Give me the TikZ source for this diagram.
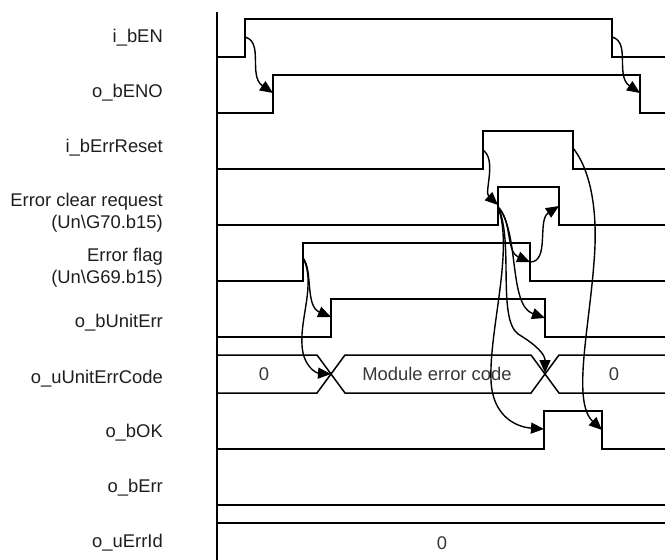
\documentclass[tikz,border=0pt]{standalone}
\usepackage{fontspec}
\setmainfont{Liberation Sans}
\usetikzlibrary{arrows.meta}
\definecolor{txt}{RGB}{30,30,30}
\definecolor{bustxt}{RGB}{55,55,55}
\tikzset{
  sig/.style={line width=1.5pt, line join=miter},
  axisline/.style={line width=1.8pt},
  cause/.style={line width=1.4pt, -{Triangle[length=13pt,width=11pt]}},
  lbl/.style={anchor=east, inner sep=0pt, text=txt, font=\fontsize{18.4}{22}\selectfont, align=right},
  bustext/.style={inner sep=0pt, text=bustxt, font=\fontsize{18.4}{22}\selectfont}
}
\begin{document}
\begin{tikzpicture}[x=1pt,y=-1pt]
\useasboundingbox (0,0) rectangle (665,560);
% labels
\node[lbl] (l1) at (163,38) {i\_bEN};
\node[lbl] (l2) at (163,93) {o\_bENO};
\node[lbl] (l3) at (163,148) {i\_bErrReset};
\node[lbl] (l4) at (163,213) {Error clear request\\(Un\textbackslash G70.b15)};
\node[lbl] (l5) at (163,268) {Error flag\\(Un\textbackslash G69.b15)};
\node[lbl] (l6) at (163,323) {o\_bUnitErr};
\node[lbl] (l7) at (163,379) {o\_uUnitErrCode};
\node[lbl] (l8) at (163,433) {o\_bOK};
\node[lbl] (l9) at (163,488) {o\_bErr};
\node[lbl] (l10) at (163,543) {o\_uErrId};
% time axis
\draw[axisline] (217,12) -- (217,560);
% signals
\draw[sig] (217,57) -- (245,57) -- (245,19) -- (612,19) -- (612,57) -- (665,57);
\draw[sig] (217,113) -- (273,113) -- (273,75) -- (640,75) -- (640,113) -- (665,113);
\draw[sig] (217,169) -- (483,169) -- (483,131) -- (573,131) -- (573,169) -- (665,169);
\draw[sig] (217,225) -- (498,225) -- (498,187) -- (559,187) -- (559,225) -- (665,225);
\draw[sig] (217,281) -- (303,281) -- (303,243) -- (530,243) -- (530,281) -- (665,281);
\draw[sig] (217,337) -- (331,337) -- (331,299) -- (545,299) -- (545,337) -- (665,337);
% bus o_uUnitErrCode
\draw[sig] (217,355) -- (317,355) -- (345,393) -- (531,393) -- (559,355) -- (665,355);
\draw[sig] (217,393) -- (317,393) -- (345,355) -- (531,355) -- (559,393) -- (665,393);
\node[bustext] (c0) at (264,374) {0};
\node[bustext] (c1) at (437,374) {Module error code};
\node[bustext] (c2) at (614,374) {0};
% o_bOK
\draw[sig] (217,449) -- (544,449) -- (544,411) -- (602,411) -- (602,449) -- (665,449);
% o_bErr
\draw[sig] (217,505) -- (665,505);
% o_uErrId
\draw[sig] (217,523) -- (665,523);
\node[bustext] (e0) at (442,543) {0};
% edge points
\coordinate (enR) at (245,37);
\coordinate (enF) at (612,37);
\coordinate (enoR) at (273,93);
\coordinate (enoF) at (640,93);
\coordinate (rstR) at (483,150);
\coordinate (rstF) at (573,148);
\coordinate (clrR) at (498,205);
\coordinate (clrRs) at (498,207);
\coordinate (clrF) at (559,206);
\coordinate (flgR) at (303,258);
\coordinate (flgF) at (530,262);
\coordinate (ueR) at (331,317);
\coordinate (ueF) at (545,318);
\coordinate (x1) at (331,374);
\coordinate (x2) at (545,373);
\coordinate (okR) at (544,429);
\coordinate (okF) at (602,430);
% cause arrows
\draw[cause] (enR) .. controls (264,42) and (248,76) .. (enoR);
\draw[cause] (enF) .. controls (631,42) and (615,76) .. (enoF);
\draw[cause] (rstR) .. controls (497,160) and (484,192) .. (clrR);
\draw[cause] (clrRs) .. controls (512,220) and (506,252) .. (flgF);
\draw[cause] (flgF) .. controls (550,262) and (537,220) .. (clrF);
\draw[cause] (clrRs) .. controls (520,232) and (508,305) .. (ueF);
\draw[cause] (clrRs) .. controls (514,240) and (497,318) .. (518,334) .. controls (538,346) and (545,355) .. (x2);
\draw[cause] (clrRs) .. controls (514,250) and (489,330) .. (491,380) .. controls (492,415) and (515,427) .. (okR);
\draw[cause] (rstF) .. controls (592,172) and (598,215) .. (594,262) .. controls (589,330) and (572,402) .. (okF);
\draw[cause] (flgR) .. controls (313,270) and (305,306) .. (ueR);
\draw[cause] (flgR) .. controls (316,282) and (300,318) .. (302,345) .. controls (303,366) and (316,373) .. (x1);
\end{tikzpicture}
\end{document}
